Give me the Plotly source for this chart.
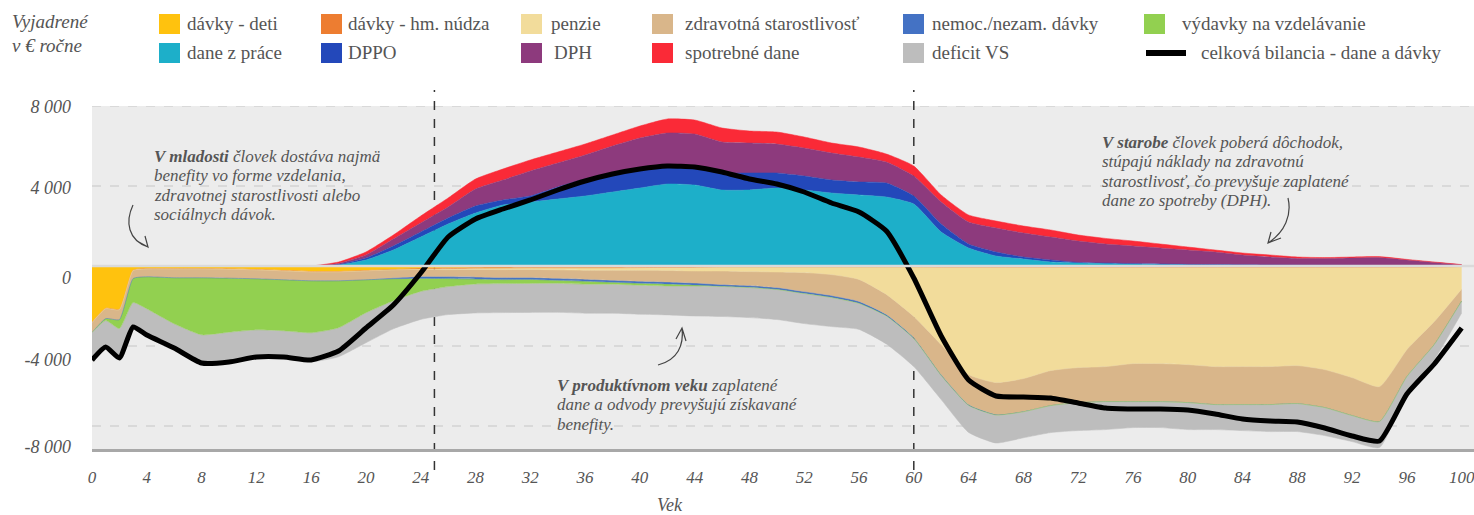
import plotly.graph_objects as go

# ---------------- data (values in EUR per year) ----------------
ages = [0, 1, 2, 3, 4, 6, 8, 10, 12, 14, 16, 18, 20, 22, 24, 26, 28, 30, 32, 34,
        36, 38, 40, 42, 44, 46, 48, 50, 52, 54, 56, 58, 60, 62, 64, 66, 68, 70,
        72, 74, 76, 78, 80, 82, 84, 86, 88, 90, 92, 94, 96, 98, 100]

# taxes (positive)
dane_z_prace = [0, 0, 0, 0, 0, 0, 0, 0, 0, 0, 0, 50, 300, 800, 1450, 2100, 2650, 3050, 3200, 3350,
                3500, 3700, 3900, 4100, 4050, 3800, 3800, 3900, 3800, 3650, 3550, 3450, 3100, 1700, 900, 500, 350, 200,
                150, 130, 100, 80, 70, 60, 50, 40, 30, 30, 25, 20, 15, 10, 5]
dppo = [0, 0, 0, 0, 0, 0, 0, 0, 0, 0, 0, 30, 100, 200, 250, 300, 350, 250, 300, 600,
        850, 900, 900, 900, 900, 850, 850, 750, 700, 650, 650, 700, 400, 400, 200, 200, 100, 100,
        30, 20, 20, 20, 10, 10, 10, 10, 10, 5, 5, 5, 5, 2, 0]
dph = [0, 0, 0, 0, 0, 0, 0, 0, 0, 0, 0, 50, 150, 350, 450, 550, 850, 1000, 1250, 1200,
       1200, 1400, 1600, 1650, 1650, 1550, 1500, 1450, 1400, 1350, 1250, 1050, 1000, 1100, 1100, 1200, 1200, 1150,
       1070, 950, 880, 800, 720, 630, 490, 400, 340, 335, 370, 395, 280, 168, 55]
spotrebne_dane = [0, 0, 0, 0, 0, 0, 0, 0, 0, 0, 0, 70, 150, 200, 350, 450, 500, 550, 550, 550,
                  550, 550, 600, 700, 700, 700, 600, 600, 550, 500, 500, 400, 500, 350, 350, 350, 350, 350,
                  300, 280, 250, 200, 150, 100, 100, 100, 70, 50, 50, 50, 30, 20, 10]

# benefits / costs (negative)
davky_deti = [-2800, -2100, -2150, -200, -100, -100, -100, -120, -150, -200, -250, -250, -200, -150, -100, -80, -60, -50, -40, -40,
              -40, -40, -30, -20, -20, 0, 0, 0, 0, 0, 0, 0, 0, 0, 0, 0, 0, 0,
              0, 0, 0, 0, 0, 0, 0, 0, 0, 0, 0, 0, 0, 0, 0]
davky_hn = [-30, -30, -30, -30, -40, -40, -40, -40, -40, -40, -40, -40, -40, -40, -50, -50, -50, -50, -50, -50,
            -50, -50, -50, -50, -50, -50, -50, -50, -50, -50, -50, -50, -50, -60, -60, -60, -60, -60,
            -60, -60, -60, -60, -60, -60, -60, -60, -60, -60, -60, -60, -60, -60, -30]
penzie = [0, 0, 0, 0, 0, 0, 0, 0, 0, 0, 0, 0, 0, 0, -20, -50, -60, -80, -80, -100,
          -120, -120, -130, -150, -180, -200, -230, -250, -280, -380, -620, -1370, -2470, -3870, -5370, -5770, -5570, -5170,
          -5020, -4970, -4820, -4820, -4870, -4970, -4970, -4970, -4920, -5120, -5520, -5970, -4120, -2720, -1120]
zdravotna = [-500, -500, -500, -400, -400, -450, -450, -450, -450, -450, -450, -450, -450, -400, -350, -350, -380, -400, -400, -425,
             -450, -500, -550, -575, -600, -675, -700, -775, -950, -1050, -1100, -1000, -1050, -1500, -1500, -1600, -1650, -1750,
             -1750, -1750, -1900, -1900, -1900, -1900, -1900, -1900, -1900, -1900, -1900, -1750, -1350, -1150, -600]
nemoc = [0, 0, 0, 0, 0, 0, 0, 0, 0, 0, 0, 0, 0, -50, -100, -100, -100, -100, -100, -100,
         -100, -100, -100, -100, -100, -100, -100, -100, -100, -100, -100, -80, -60, -50, -40, -20, -10, 0,
         0, 0, 0, 0, 0, 0, 0, 0, 0, 0, 0, 0, 0, 0, 0]
vzdelavanie = [0, -100, -450, -1200, -1600, -2300, -2850, -2700, -2550, -2550, -2600, -2350, -1650, -1100, -650, -400, -250, -200, -200, -150,
               -150, -100, -100, -100, -50, 0, 0, 0, 0, 0, 0, 0, 0, 0, 0, 0, 0, 0,
               0, 0, 0, 0, 0, 0, 0, 0, 0, 0, 0, 0, 0, 0, 0]
deficit_vs = [-1400, -1350, -1500, -1250, -1300, -1150, -1350, -1450, -1350, -1350, -1450, -1450, -1500, -1400, -1400, -1400, -1450, -1450, -1450, -1450,
              -1450, -1450, -1450, -1450, -1500, -1500, -1500, -1500, -1500, -1450, -1300, -1400, -1400, -1200, -1350, -1400, -1300, -1350,
              -1400, -1400, -1300, -1300, -1350, -1250, -1300, -1350, -1400, -1400, -1300, -1300, -800, -750, -600]

bilancia = [-4700, -4050, -4600, -3050, -3450, -4100, -4850, -4800, -4550, -4550, -4700, -4250, -3100, -1950, -350, 1450, 2350, 2850, 3300, 3800,
            4250, 4600, 4850, 5000, 4950, 4700, 4350, 4100, 3700, 3150, 2700, 1750, -600, -3500, -5700, -6500, -6550, -6600,
            -6850, -7100, -7150, -7150, -7200, -7400, -7650, -7750, -7800, -8100, -8500, -8750, -6400, -4900, -3100]

x_ticks = list(range(0, 101, 4))
y_tick_vals = [7950, 3900, -600, -4700, -9050]
y_tick_text = ["8 000", "4 000", "0", "-4 000", "-8 000"]

# ---------------- series definitions ----------------
pos_series = [
    ("dane z práce", dane_z_prace, "#1DAFC9"),
    ("DPPO", dppo, "#2348BA"),
    ("DPH", dph, "#8D3A7D"),
    ("spotrebné dane", spotrebne_dane, "#FA2A37"),
]
neg_series = [
    ("dávky - deti", davky_deti, "#FFC20E"),
    ("dávky - hm. núdza", davky_hn, "#ED7D31"),
    ("penzie", penzie, "#F2DC9B"),
    ("zdravotná starostlivosť", zdravotna, "#D9B68A"),
    ("nemoc./nezam. dávky", nemoc, "#4472C4"),
    ("výdavky na vzdelávanie", vzdelavanie, "#92D050"),
    ("deficit VS", deficit_vs, "#BDBDBD"),
]
colors = {n: c for n, _, c in pos_series + neg_series}

FONT = "Liberation Serif"
TXT = "#555555"
W, H = 1474, 515
ML, MT, MR, MB = 92, 106, 0, 66
PW, PH = W - ML - MR, H - MT - MB


def px(x):
    return (x - ML) / PW


def py(y):
    return (H - MB - y) / PH


fig = go.Figure()
for name, vals, col in pos_series:
    fig.add_trace(go.Scatter(x=ages, y=vals, name=name, stackgroup="pos", mode="lines",
                             line=dict(width=0.5, color=col, shape="spline", smoothing=0.5),
                             fillcolor=col, showlegend=False, hoverinfo="skip"))
for name, vals, col in neg_series:
    fig.add_trace(go.Scatter(x=ages, y=vals, name=name, stackgroup="neg", mode="lines",
                             line=dict(width=0.5, color=col, shape="spline", smoothing=0.5),
                             fillcolor=col, showlegend=False, hoverinfo="skip"))
fig.add_trace(go.Scatter(x=ages, y=bilancia, name="celková bilancia - dane a dávky", mode="lines",
                         line=dict(width=5, color="black", shape="spline", smoothing=0.5),
                         showlegend=False, hoverinfo="skip"))

shapes = []
# dashed grid lines
for v in [8000, 4000, -4000, -8000]:
    shapes.append(dict(type="line", xref="paper", x0=0, x1=1, yref="y", y0=v, y1=v,
                       line=dict(color="#D2D2D2", width=1.5, dash="dash"), layer="below"))
# zero separator
shapes.append(dict(type="line", xref="paper", x0=0, x1=1, yref="y", y0=0, y1=0,
                   line=dict(color="#DADADA", width=2.5), layer="above"))
# life-phase separators
for a in [25, 60]:
    shapes.append(dict(type="line", xref="x", x0=a, x1=a, yref="paper", y0=py(470), y1=py(90),
                       line=dict(color="#333333", width=1.5, dash="dash"), layer="below"))


def path(cmds):
    out = []
    for c in cmds:
        if isinstance(c, str):
            out.append(c)
        else:
            out.append(f"{px(c[0]):.5f},{py(c[1]):.5f}")
    return " ".join(out)


arrow_style = dict(color="#444444", width=1.2)
arrows = [
    ["M", (133, 205), "C", (125, 222), (128, 240), (148, 247), "M", (137, 241), "L", (148, 247), "L", (145, 236)],
    ["M", (658, 365), "C", (678, 360), (684, 345), (682, 328), "M", (676, 339), "L", (682, 328), "L", (686, 341)],
    ["M", (1288, 198), "C", (1292, 215), (1285, 232), (1268, 243), "M", (1271, 232), "L", (1268, 243), "L", (1281, 238)],
]
for a in arrows:
    shapes.append(dict(type="path", xref="paper", yref="paper", path=path(a), line=arrow_style, layer="above"))

annotations = []
ann_font = dict(family=FONT, size=17, color=TXT, style="italic")
notes = [
    (152, 156, ["<b>V mladosti</b> človek dostáva najmä", "benefity vo forme vzdelania,",
                "zdravotnej starostlivosti alebo", "sociálnych dávok."]),
    (555, 385, ["<b>V produktívnom veku</b> zaplatené", "dane a odvody prevyšujú získavané", "benefity."]),
    (1100, 142, ["<b>V starobe</b> človek poberá dôchodok,", "stúpajú náklady na zdravotnú",
                 "starostlivosť, čo prevyšuje zaplatené", "dane zo spotreby (DPH)."]),
]
for x, y, lines in notes:
    for k, t in enumerate(lines):
        annotations.append(dict(xref="paper", yref="paper", x=px(x), y=py(y + 19.5 * k), xanchor="left",
                                yanchor="middle", text=t, showarrow=False, align="left", font=ann_font))

# unit label
for k, t in enumerate(["Vyjadrené", "v € ročne"]):
    annotations.append(dict(xref="paper", yref="paper", x=px(10), y=py(21 + 24 * k), xanchor="left", yanchor="middle",
                            text=t, showarrow=False, align="left",
                            font=dict(family=FONT, size=19, color=TXT, style="italic")))
# x-axis title
annotations.append(dict(xref="paper", yref="paper", x=px(670), y=py(505), xanchor="center", yanchor="middle",
                        text="Vek", showarrow=False, font=dict(family=FONT, size=18, color=TXT, style="italic")))

# custom legend
legend_rows = [
    [("dávky - deti", 159, 185), ("dávky - hm. núdza", 321, 346), ("penzie", 521, 549),
     ("zdravotná starostlivosť", 652, 683), ("nemoc./nezam. dávky", 903, 930), ("výdavky na vzdelávanie", 1144, 1180)],
    [("dane z práce", 159, 185), ("DPPO", 321, 346), ("DPH", 521, 552),
     ("spotrebné dane", 652, 683), ("deficit VS", 903, 930), ("celková bilancia - dane a dávky", 1144, 1199)],
]
row_y = [24, 53]
for r, row in enumerate(legend_rows):
    yc = row_y[r]
    for name, sx, tx in row:
        if name in colors:
            shapes.append(dict(type="rect", xref="paper", yref="paper", x0=px(sx), x1=px(sx + 21),
                               y0=py(yc + 10), y1=py(yc - 10), fillcolor=colors[name], line=dict(width=0)))
        else:
            shapes.append(dict(type="line", xref="paper", yref="paper", x0=px(sx + 2), x1=px(sx + 42),
                               y0=py(yc), y1=py(yc), line=dict(color="black", width=6)))
        annotations.append(dict(xref="paper", yref="paper", x=px(tx), y=py(yc), xanchor="left", yanchor="middle",
                                text=name, showarrow=False, font=dict(family=FONT, size=19, color=TXT)))

fig.update_layout(
    width=W, height=H,
    margin=dict(l=ML, r=MR, t=MT, b=MB, autoexpand=False),
    paper_bgcolor="white", plot_bgcolor="#ECECEC",
    showlegend=False,
    shapes=shapes, annotations=annotations,
    xaxis=dict(range=[0, 100.9], tickvals=x_ticks, showgrid=False, zeroline=False,
               showline=True, linecolor="#A8A8A8", linewidth=3, ticks="", automargin=False,
               ticklabelstandoff=11, ticklabeloverflow="allow",
               tickfont=dict(family=FONT, size=17, color=TXT, style="italic")),
    yaxis=dict(range=[-9150, 8000], tickvals=y_tick_vals, ticktext=y_tick_text, showgrid=False,
               zeroline=False, showline=False, ticks="", ticklabelstandoff=20, automargin=False,
               tickfont=dict(family=FONT, size=18, color=TXT, style="italic")),
)

fig.write_html("out.html", config={"displayModeBar": False},
               post_script="document.body.style.margin='0';document.body.style.overflow='hidden';")
